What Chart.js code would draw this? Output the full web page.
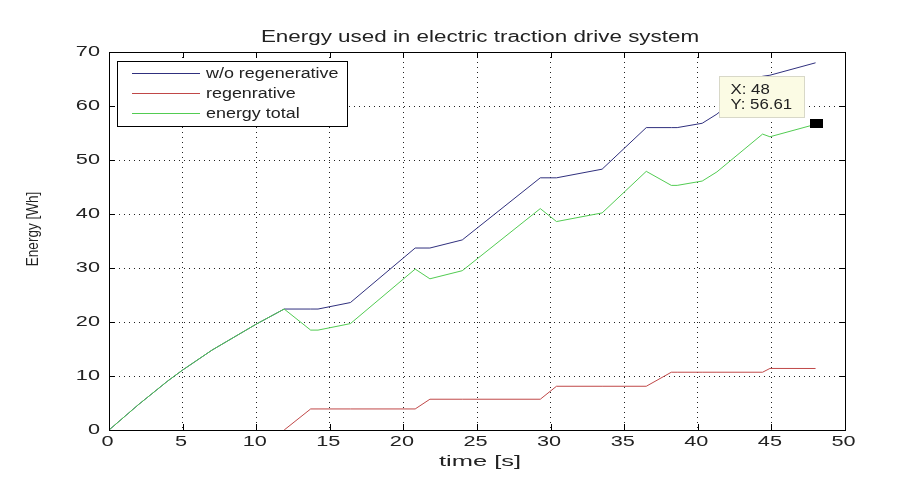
<!DOCTYPE html>
<html>
<head>
<meta charset="utf-8">
<script src="https://cdn.jsdelivr.net/npm/chart.js@4/dist/chart.umd.min.js"></script>
<style>
  html, body { margin: 0; padding: 0; background: #fff; }
  #wrap { width: 897px; height: 488px; }
</style>
</head>
<body>
<div id="wrap"><canvas id="myChart" width="897" height="488"></canvas></div>
<script>
// time [s] where any of the curves changes slope
var timeS = [0, 2, 4, 5, 7, 10, 11.9, 13.7, 14.2, 16.4, 20.8, 21.8, 24, 29.3, 30.4, 33.5, 36.5, 38.2, 38.6, 40.3, 41.3, 44.4, 44.9, 48];
var withoutRegen = [0, 4.7, 9.1, 11.1, 14.8, 19.6, 22.4, 22.4, 22.4, 23.6, 33.7, 33.7, 35.2, 46.7, 46.7, 48.3, 56.0, 56.0, 56.0, 56.8, 58.5, 65.5, 65.7, 68.0];
var regen = [null, null, null, null, null, null, 0, 3.9, 3.9, 3.9, 3.9, 5.7, 5.7, 5.7, 8.1, 8.1, 8.1, 10.7, 10.7, 10.7, 10.7, 10.7, 11.4, 11.39];
var energyTotal = [0, 4.7, 9.1, 11.1, 14.8, 19.6, 22.4, 18.5, 18.5, 19.7, 29.8, 28.0, 29.5, 41.0, 38.6, 40.2, 47.9, 45.3, 45.3, 46.1, 47.8, 54.8, 54.3, 56.61];
var seriesNames = ["w/o regenerative", "regenrative", "energy total"];
var seriesColors = ["#30307e", "#c04848", "#52cc52"];
var xTicks = [0, 5, 10, 15, 20, 25, 30, 35, 40, 45, 50];
var yTicks = [0, 10, 20, 30, 40, 50, 60, 70];
var tipX = 48, tipY = 56.61;

var FONT = "'Liberation Sans', Arial, sans-serif";

function pts(ys) {
    return timeS.map(function (t, i) { return { x: t, y: ys[i] }; });
}

// the reference picture is stretched sideways, so text is too
function wideText(ctx, txt, x, y, sx, align) {
    ctx.save();
    ctx.translate(x, y);
    ctx.scale(sx, 1);
    ctx.textAlign = align || "center";
    ctx.fillText(txt, 0, 0);
    ctx.restore();
}

// frame, inward ticks, tick labels, legend box, data tip and texts (matlab look)
var matlabDecor = {
    id: "matlabDecor",
    afterDraw: function (chart) {
        var ctx = chart.ctx, a = chart.chartArea;
        var xs = chart.scales.x, ys = chart.scales.y;
        ctx.save();

        // frame
        ctx.strokeStyle = "#000";
        ctx.lineWidth = 1;
        ctx.strokeRect(Math.round(a.left) + 0.5, Math.round(a.top) + 0.5,
            Math.round(a.right - a.left), Math.round(a.bottom - a.top));

        // ticks pointing inside
        ctx.beginPath();
        xTicks.forEach(function (v) {
            var px = Math.round(xs.getPixelForValue(v)) + 0.5;
            ctx.moveTo(px, a.bottom); ctx.lineTo(px, a.bottom - 6);
            ctx.moveTo(px, a.top); ctx.lineTo(px, a.top + 6);
        });
        yTicks.forEach(function (v) {
            var py = Math.round(ys.getPixelForValue(v)) + 0.5;
            ctx.moveTo(a.left, py); ctx.lineTo(a.left + 6, py);
            ctx.moveTo(a.right, py); ctx.lineTo(a.right - 6, py);
        });
        ctx.stroke();

        ctx.fillStyle = "#222";
        ctx.textBaseline = "middle";

        // tick labels
        ctx.font = "14px " + FONT;
        xTicks.forEach(function (v) {
            wideText(ctx, String(v), xs.getPixelForValue(v) - 1.5, 442, 1.55, "center");
        });
        yTicks.forEach(function (v) {
            wideText(ctx, String(v), a.left - 9, ys.getPixelForValue(v), 1.55, "right");
        });

        // title + axis titles
        ctx.font = "16px " + FONT;
        wideText(ctx, "Energy used in electric traction drive system", (a.left + a.right) / 2 + 3, 37.5, 1.4);
        ctx.font = "15px " + FONT;
        wideText(ctx, "time [s]", 480, 462, 1.7);
        ctx.save();
        ctx.translate(33, 229);
        ctx.scale(1.25, 1);
        ctx.rotate(-Math.PI / 2);
        ctx.textAlign = "center";
        ctx.font = "13.5px " + FONT;
        ctx.fillText("Energy [Wh]", 0, 0);
        ctx.restore();

        // legend
        var lx = 117.5, ly = 61.5, lw = 230, lh = 65;
        ctx.fillStyle = "#fff";
        ctx.fillRect(lx, ly, lw, lh);
        ctx.strokeStyle = "#000";
        ctx.strokeRect(lx, ly, lw, lh);
        ctx.font = "14px " + FONT;
        seriesNames.forEach(function (name, i) {
            var y = 73.5 + i * 20;
            ctx.strokeStyle = seriesColors[i];
            ctx.beginPath();
            ctx.moveTo(132, y); ctx.lineTo(200, y);
            ctx.stroke();
            ctx.fillStyle = "#222";
            wideText(ctx, name, 206, y + 1, 1.28, "left");
        });

        // data tip
        var mx = xs.getPixelForValue(tipX), my = ys.getPixelForValue(tipY);
        ctx.fillStyle = "#000";
        ctx.fillRect(Math.round(mx) - 6, Math.round(my) - 5, 13, 9);
        var bx = Math.round(mx) - 96.5, by = Math.round(my) - 47.5;
        ctx.fillStyle = "#fbfbe4";
        ctx.fillRect(bx, by, 85, 41);
        ctx.strokeStyle = "#d8d8c8";
        ctx.strokeRect(bx, by, 85, 41);
        ctx.fillStyle = "#222";
        ctx.font = "14px " + FONT;
        wideText(ctx, "X: " + tipX, bx + 11, by + 14, 1.2, "left");
        wideText(ctx, "Y: " + tipY, bx + 11, by + 29, 1.2, "left");

        ctx.restore();
    }
};

var ctx = document.getElementById("myChart").getContext("2d");
new Chart(ctx, {
    type: "line",
    data: {
        datasets: [{
            label: seriesNames[0],
            data: pts(withoutRegen),
            borderColor: seriesColors[0],
            order: 2
        }, {
            label: seriesNames[1],
            data: pts(regen),
            borderColor: seriesColors[1],
            order: 1
        }, {
            label: seriesNames[2],
            data: pts(energyTotal),
            borderColor: seriesColors[2],
            order: 0
        }]
    },
    options: {
        responsive: false,
        animation: false,
        layout: { padding: { top: 52, right: 52, left: 0, bottom: 0 } },
        elements: {
            point: { radius: 0 },
            line: { borderWidth: 1, tension: 0, fill: false }
        },
        plugins: {
            legend: { display: false },
            title: { display: false },
            tooltip: { enabled: false }
        },
        scales: {
            x: {
                type: "linear",
                min: 0, max: 50,
                afterFit: function (s) { s.height = 58; },
                afterBuildTicks: function (s) { s.ticks = xTicks.map(function (v) { return { value: v }; }); },
                grid: { color: "#222", drawTicks: false },
                border: { display: false, dash: [1, 4] },
                ticks: { display: false }
            },
            y: {
                min: 0, max: 70,
                afterFit: function (s) { s.width = 109; },
                afterBuildTicks: function (s) { s.ticks = yTicks.map(function (v) { return { value: v }; }); },
                grid: { color: "#222", drawTicks: false },
                border: { display: false, dash: [1, 4] },
                ticks: { display: false }
            }
        }
    },
    plugins: [{
        id: "whiteBg",
        beforeDraw: function (chart) {
            var c = chart.ctx;
            c.save();
            c.fillStyle = "#fff";
            c.fillRect(0, 0, chart.width, chart.height);
            c.restore();
        }
    }, matlabDecor]
});
</script>
</body>
</html>
